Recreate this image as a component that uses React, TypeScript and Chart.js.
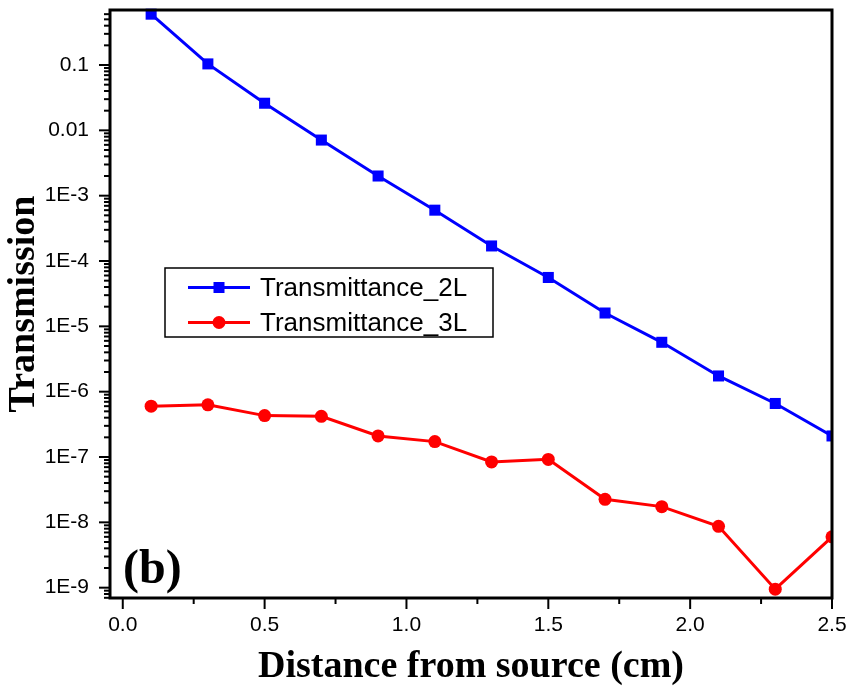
import React, { useEffect, useRef } from 'react';
import { Chart, registerables } from 'chart.js';

Chart.register(...registerables);

// ---- data ----
const distances = [0.1, 0.3, 0.5, 0.7, 0.9, 1.1, 1.3, 1.5, 1.7, 1.9, 2.1, 2.3, 2.5];
const transmittance2L = [0.6, 0.104, 0.026, 0.0071, 0.002, 6.0e-4, 1.7e-4, 5.6e-5, 1.6e-5, 5.7e-6, 1.74e-6, 6.6e-7, 2.1e-7];
const transmittance3L = [6.0e-7, 6.3e-7, 4.3e-7, 4.2e-7, 2.1e-7, 1.72e-7, 8.4e-8, 9.2e-8, 2.25e-8, 1.74e-8, 8.7e-9, 9.5e-10, 6.0e-9];
const seriesLabels = ['Transmittance_2L', 'Transmittance_3L'];
const seriesColors = ['#0000FF', '#FF0000'];
const seriesMarkers = ['rect', 'circle'];

const xTickValues = [0, 0.25, 0.5, 0.75, 1.0, 1.25, 1.5, 1.75, 2.0, 2.25, 2.5];
const xTickLabels = ['0.0', '', '0.5', '', '1.0', '', '1.5', '', '2.0', '', '2.5'];
const xMin = -0.045;
const xMax = 2.5;

const yMajorValues = [1e-9, 1e-8, 1e-7, 1e-6, 1e-5, 1e-4, 1e-3, 1e-2, 1e-1];
const yMajorLabels = ['1E-9', '1E-8', '1E-7', '1E-6', '1E-5', '1E-4', '1E-3', '0.01', '0.1'];
const yMin = 6.95e-10;
const yMax = 0.695;

const xTitle = 'Distance from source (cm)';
const yTitle = 'Transmission';
const panelLabel = '(b)';

function buildLogTicks() {
  const ticks: { value: number; major: boolean }[] = [];
  for (let e = -10; e <= 0; e++) {
    for (let s = 1; s <= 9; s++) {
      const v = parseFloat((s * Math.pow(10, e)).toPrecision(6));
      if (v >= yMin && v <= yMax) ticks.push({ value: v, major: s === 1 });
    }
  }
  return ticks;
}

const decorPlugin = {
  id: 'decor',
  afterDatasetsDraw(chart: any) {
    const { ctx, chartArea: a, scales } = chart;
    ctx.save();
    ctx.strokeStyle = '#000';
    ctx.lineWidth = 2;
    for (const t of scales.y.ticks) {
      const py = scales.y.getPixelForValue(t.value);
      const len = t.major ? 11 : 6;
      ctx.beginPath();
      ctx.moveTo(a.left - len, py);
      ctx.lineTo(a.left, py);
      ctx.stroke();
    }
    for (const t of scales.x.ticks) {
      const px = scales.x.getPixelForValue(t.value);
      const len = t.major ? 11 : 6;
      ctx.beginPath();
      ctx.moveTo(px, a.bottom);
      ctx.lineTo(px, a.bottom + len);
      ctx.stroke();
    }
    ctx.lineWidth = 3;
    ctx.strokeRect(a.left, a.top, a.right - a.left, a.bottom - a.top);

    // panel label
    ctx.fillStyle = '#000';
    ctx.font = 'bold 48px "Liberation Serif"';
    ctx.textAlign = 'left';
    ctx.textBaseline = 'alphabetic';
    ctx.fillText(panelLabel, a.left + 13, a.bottom - 15);

    // legend
    const bx = 165, by = 268, bw = 328, bh = 69;
    ctx.lineWidth = 1.5;
    ctx.strokeRect(bx, by, bw, bh);
    ctx.font = '26px "Liberation Sans"';
    ctx.textBaseline = 'middle';
    chart.data.datasets.forEach((ds: any, i: number) => {
      const y = by + 19.5 + i * 35;
      ctx.strokeStyle = ds.borderColor;
      ctx.lineWidth = 3;
      ctx.beginPath();
      ctx.moveTo(188, y);
      ctx.lineTo(250, y);
      ctx.stroke();
      ctx.fillStyle = ds.pointBackgroundColor;
      if (ds.pointStyle === 'rect') {
        ctx.fillRect(219 - 5.5, y - 5.5, 11, 11);
      } else {
        ctx.beginPath();
        ctx.arc(219, y, 6.5, 0, Math.PI * 2);
        ctx.fill();
      }
      ctx.fillStyle = '#000';
      ctx.fillText(ds.label, 260, y + 1);
    });
    ctx.restore();
  },
};

export default function App() {
  const ref = useRef<HTMLCanvasElement>(null);
  useEffect(() => {
    if (!ref.current) return;
    const series = [transmittance2L, transmittance3L];
    const chart = new Chart(ref.current, {
      type: 'line',
      data: {
        datasets: series.map((vals, i) => ({
          label: seriesLabels[i],
          data: distances.map((x, j) => ({ x, y: vals[j] })),
          borderColor: seriesColors[i],
          backgroundColor: seriesColors[i],
          pointBackgroundColor: seriesColors[i],
          pointBorderColor: seriesColors[i],
          pointStyle: seriesMarkers[i] as any,
          pointRadius: i === 0 ? 7.8 : 6.5,
          pointBorderWidth: 0,
          borderWidth: 3,
          tension: 0,
          clip: { left: 10, top: 10, right: 0, bottom: 10 } as any,
        })),
      },
      options: {
        animation: false,
        responsive: false,
        layout: { padding: { top: 10, right: 17, left: 0, bottom: 0 } },
        plugins: { legend: { display: false }, tooltip: { enabled: false } },
        scales: {
          x: {
            type: 'linear',
            min: xMin,
            max: xMax,
            afterBuildTicks: (scale: any) => {
              scale.ticks = xTickValues.map((v, i) => ({ value: v, major: xTickLabels[i] !== '' }));
            },
            afterFit: (scale: any) => {
              scale.height = 90;
              scale.paddingLeft = 0;
              scale.paddingRight = 0;
            },
            ticks: {
              autoSkip: false,
              maxRotation: 0,
              padding: 4,
              color: '#000',
              font: { family: '"Liberation Sans"', size: 21 },
              callback: (value: any, index: number) => xTickLabels[index] ?? '',
            },
            grid: { display: true, drawOnChartArea: false, tickLength: 11, tickColor: 'rgba(0,0,0,0)' },
            border: { display: false },
            title: {
              display: true,
              text: xTitle,
              color: '#000',
              font: { family: '"Liberation Serif"', size: 38, weight: 'bold', lineHeight: 1 },
              padding: { top: 0, bottom: 2 },
            },
          },
          y: {
            type: 'logarithmic',
            min: yMin,
            max: yMax,
            afterBuildTicks: (scale: any) => {
              scale.ticks = buildLogTicks();
            },
            afterFit: (scale: any) => {
              scale.width = 110;
              scale.paddingTop = 0;
              scale.paddingBottom = 0;
            },
            ticks: {
              autoSkip: false,
              padding: 10,
              color: '#000',
              font: { family: '"Liberation Sans"', size: 21 },
              callback: (value: any) => {
                const idx = yMajorValues.findIndex((m) => Math.abs(m - value) / m < 1e-6);
                return idx >= 0 ? yMajorLabels[idx] : '';
              },
            },
            grid: { display: true, drawOnChartArea: false, tickLength: 11, tickColor: 'rgba(0,0,0,0)' },
            border: { display: false },
            title: {
              display: true,
              text: yTitle,
              color: '#000',
              font: { family: '"Liberation Serif"', size: 38, weight: 'bold', lineHeight: 1 },
              padding: { top: 5, bottom: 0 },
            },
          },
        },
      },
      plugins: [decorPlugin],
    });
    return () => chart.destroy();
  }, []);
  return (
    <div style={{ position: 'fixed', left: 0, top: 0, width: 849, height: 688, background: '#fff' }}>
      <canvas ref={ref} width={849} height={688} style={{ display: 'block' }} />
    </div>
  );
}
